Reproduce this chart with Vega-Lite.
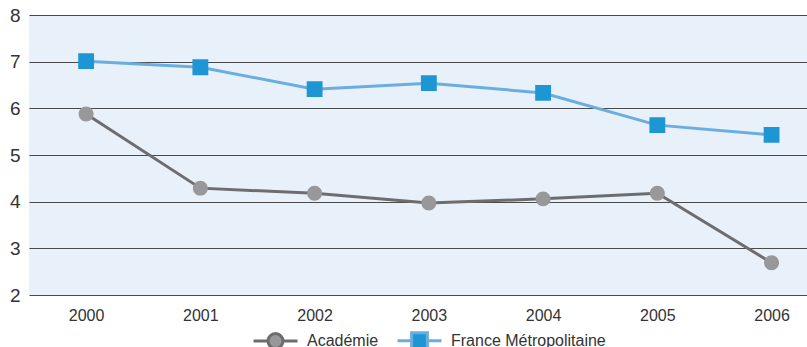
{
  "$schema": "https://vega.github.io/schema/vega-lite/v6.json",
  "width": 778,
  "height": 280,
  "autosize": {"type": "none"},
  "padding": {"left": 29, "top": 15, "right": 0, "bottom": 52},
  "config": {
    "view": {"fill": "#e8f0f9", "stroke": null},
    "font": "Liberation Sans",
    "axis": {"labelColor": "#333333", "labelFont": "Liberation Sans"},
    "legend": {"labelFont": "Liberation Sans"}
  },
  "data": {
    "values": [
      {"year": 2000, "series": "Académie", "value": 5.88},
      {"year": 2001, "series": "Académie", "value": 4.29},
      {"year": 2002, "series": "Académie", "value": 4.18},
      {"year": 2003, "series": "Académie", "value": 3.97},
      {"year": 2004, "series": "Académie", "value": 4.06},
      {"year": 2005, "series": "Académie", "value": 4.18},
      {"year": 2006, "series": "Académie", "value": 2.69},
      {"year": 2000, "series": "France Métropolitaine", "value": 7.01},
      {"year": 2001, "series": "France Métropolitaine", "value": 6.88},
      {"year": 2002, "series": "France Métropolitaine", "value": 6.41},
      {"year": 2003, "series": "France Métropolitaine", "value": 6.54},
      {"year": 2004, "series": "France Métropolitaine", "value": 6.33},
      {"year": 2005, "series": "France Métropolitaine", "value": 5.64},
      {"year": 2006, "series": "France Métropolitaine", "value": 5.43}
    ]
  },
  "encoding": {
    "x": {
      "field": "year", "type": "quantitative",
      "scale": {"domain": [1999.5, 2006.31], "nice": false, "zero": false},
      "axis": {"title": null, "values": [2000, 2001, 2002, 2003, 2004, 2005, 2006], "format": "d", "grid": false, "domain": false, "ticks": false, "labelFontSize": 16, "labelPadding": 12, "labelFlush": false}
    },
    "y": {
      "field": "value", "type": "quantitative",
      "scale": {"domain": [2, 8], "nice": false, "zero": false},
      "axis": {"title": null, "values": [2, 3, 4, 5, 6, 7, 8], "grid": true, "gridColor": "#4a4a4a", "gridOpacity": 1, "gridWidth": 1.2, "domain": false, "ticks": false, "labelFontSize": 19, "labelPadding": 9}
    }
  },
  "layer": [
    {
      "mark": {"type": "line", "strokeWidth": 3},
      "encoding": {
        "stroke": {
          "field": "series", "type": "nominal",
          "scale": {"domain": ["Académie", "France Métropolitaine"], "range": ["#6d6d70", "#6aaee0"]},
          "legend": {"title": null, "orient": "none", "legendX": 223, "legendY": 302, "direction": "horizontal", "labelFontSize": 16, "labelColor": "#333333", "symbolSize": 1936, "symbolStrokeWidth": 3, "columnPadding": 12, "labelOffset": 8}
        }
      }
    },
    {
      "mark": {"type": "point", "filled": true, "opacity": 1, "strokeWidth": 0},
      "encoding": {
        "fill": {
          "field": "series", "type": "nominal",
          "scale": {"domain": ["Académie", "France Métropolitaine"], "range": ["#98989a", "#1e96d4"]},
          "legend": {"title": null, "orient": "none", "legendX": 223, "legendY": 302, "direction": "horizontal", "labelFontSize": 16, "labelColor": "#333333", "symbolSize": 1936, "symbolStrokeWidth": 3, "columnPadding": 12, "labelOffset": 8}
        },
        "shape": {
          "field": "series", "type": "nominal",
          "scale": {"domain": ["Académie", "France Métropolitaine"], "range": ["M-1,0H-0.34M0.34,0H1M0.34,0A0.34,0.34 0 1 1 -0.34,0A0.34,0.34 0 1 1 0.34,0Z", "M-1,0H-0.36M0.36,0H1M-0.36,-0.36H0.36V0.36H-0.36Z"]},
          "legend": {"title": null, "orient": "none", "legendX": 223, "legendY": 302, "direction": "horizontal", "labelFontSize": 16, "labelColor": "#333333", "symbolSize": 1936, "symbolStrokeWidth": 3, "columnPadding": 12, "labelOffset": 8}
        },
        "size": {"value": 1936}
      }
    }
  ]
}
